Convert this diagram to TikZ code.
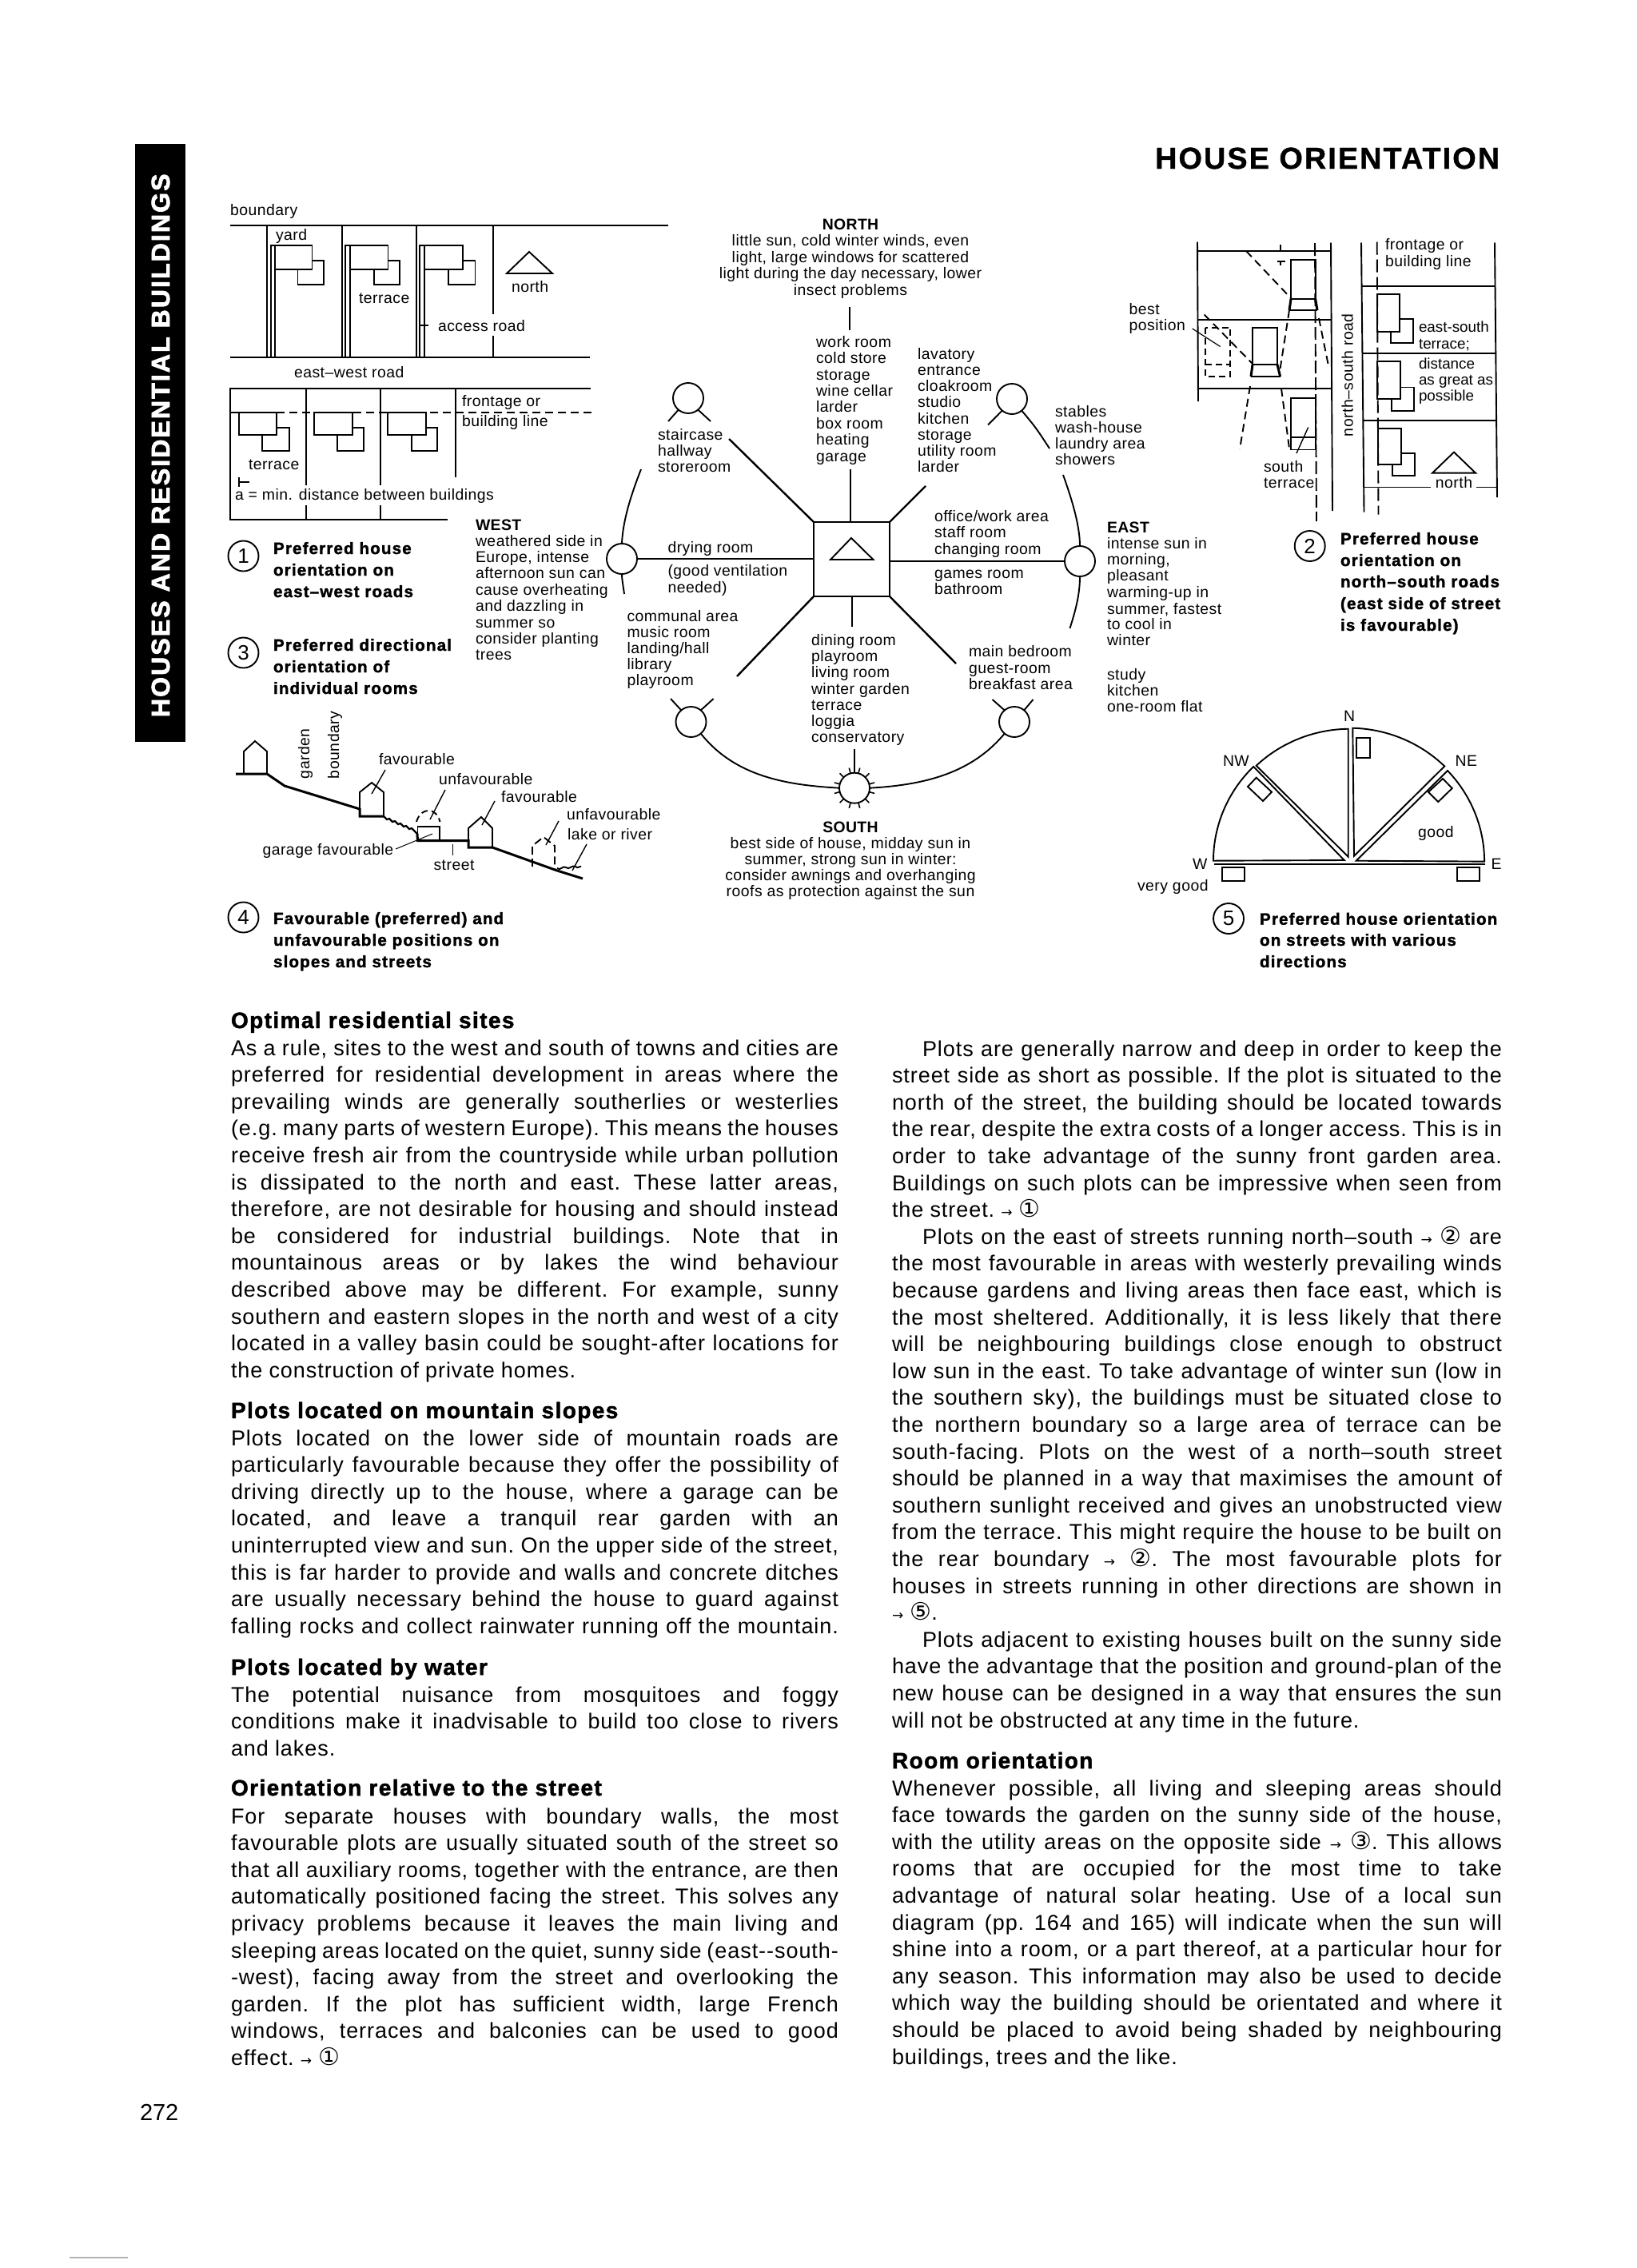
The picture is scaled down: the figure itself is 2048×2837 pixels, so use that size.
\documentclass[tikz,border=0pt]{standalone}
\usepackage{fontspec}
\setmainfont{Liberation Sans}
\newfontfamily\labf[LetterSpace=2.5]{Liberation Sans}
\newfontfamily\labn{Liberation Sans}
\newfontfamily\bodyf[LetterSpace=3.5]{Liberation Sans}
\newfontfamily\capf[FakeBold=1.6,LetterSpace=5.5]{Liberation Sans Bold}
\newfontfamily\headf[FakeBold=1.6,LetterSpace=5]{Liberation Sans Bold}
\newfontfamily\dirf[LetterSpace=2]{Liberation Sans Bold}
\newfontfamily\symf{DejaVu Sans}
\newfontfamily\tabf[FakeBold=2.5,LetterSpace=6.6]{Liberation Sans Bold}
\newfontfamily\titf[FakeBold=1,LetterSpace=5.5]{Liberation Sans Bold}
\newcount\tc
\newcommand{\Bsz}{\fontsize{13.5}{16}\selectfont}
\newcommand{\Lsz}{\fontsize{9.7}{12}\selectfont}
\newcommand{\Csz}{\fontsize{10.3}{12}\selectfont}
% text helpers: every text line is a named node
\newcommand{\lab}[3]{\global\advance\tc by 1 \node[txt,font=\labf\Lsz] (t\the\tc) at (#1,#2) {#3};}
\newcommand{\labz}[3]{\global\advance\tc by 1 \node[txt,font=\labn\fontsize{9.4}{12}\selectfont] (t\the\tc) at (#1,#2) {#3};}
\newcommand{\labc}[3]{\global\advance\tc by 1 \node[txtc,font=\labf\Lsz] (t\the\tc) at (#1,#2) {#3};}
\newcommand{\dirl}[3]{\global\advance\tc by 1 \node[txt,font=\dirf\Lsz] (t\the\tc) at (#1,#2) {#3};}
\newcommand{\dirc}[3]{\global\advance\tc by 1 \node[txtc,font=\dirf\Lsz] (t\the\tc) at (#1,#2) {#3};}
\newcommand{\capl}[3]{\global\advance\tc by 1 \node[txt,font=\capf\Csz] (t\the\tc) at (#1,#2) {#3};}
\newcommand{\head}[3]{\global\advance\tc by 1 \node[txt,font=\headf\fontsize{14}{16}\selectfont] (t\the\tc) at (#1,#2) {#3};}
\newcommand{\jl}[4]{\global\advance\tc by 1 \node[txt,font=\bodyf\Bsz] (t\the\tc) at (#1,{#2}) {\frenchspacing\spaceskip=.24em plus 1fil minus .08em \hbox to #3pt{#4}};}
\newcommand{\BL}[2]{\jl{289}{#1}{380}{#2}}
\newcommand{\BR}[2]{\jl{1116}{#1}{381.5}{#2}}
\newcommand{\BRi}[2]{\jl{1154}{#1}{362.5}{#2}}
\newcommand{\nl}[3]{\global\advance\tc by 1 \node[txt,font=\bodyf\Bsz] (t\the\tc) at (#1,{#2}) {\frenchspacing\spaceskip=.3em #3};}
\newcommand{\ar}{{\symf\fontsize{8.5}{10}\selectfont →}}
\newcommand{\ci}[1]{{\symf\fontsize{15}{16}\selectfont #1}}
\tikzset{
 txt/.style={anchor=base west,inner sep=0pt,outer sep=0pt,text=black},
 txtc/.style={anchor=base,inner sep=0pt,outer sep=0pt,text=black},
 ring/.style={circle,draw,minimum size=19pt,inner sep=0pt,outer sep=0pt},
 numring/.style={circle,draw,minimum size=19pt,inner sep=0pt,outer sep=0pt,font=\fontsize{13}{14}\selectfont},
 hub/.style={draw,line width=1.3pt,minimum width=47.5pt,minimum height=46.5pt,inner sep=0pt,outer sep=0pt},
 dsh/.style={dash pattern=on 5pt off 3pt},
 thk/.style={line width=1.5pt},
}
\begin{document}
\begin{tikzpicture}[x=0.5pt,y=-0.5pt,line width=.95pt,line join=miter]
\useasboundingbox (0,0) rectangle (2048,2837);
\fill[white] (0,0) rectangle (2048,2837);
% ---------- tab, title, page number
\fill[black] (169,180) rectangle (232,928);
\node[rotate=90,anchor=base west,inner sep=0pt,text=white,font=\tabf\fontsize{16}{18}\selectfont] (tab) at (212,898) {HOUSES AND RESIDENTIAL BUILDINGS};
\node[anchor=base east,inner sep=0pt,font=\titf\fontsize{18.9}{22}\selectfont] (title) at (1877,211) {HOUSE ORIENTATION};
\node[txt,font=\fontsize{14.5}{17}\selectfont] (page) at (175,2652) {272};
\draw[gray!60,line width=.6pt] (87,2824) -- (160,2824);
% ---------- figure 1
\lab{288}{269}{boundary}
\draw (288,282) -- (836,282);
\draw (288,447) -- (738,447);
\draw (334,282) -- (334,447);
\draw (428,282) -- (428,447);
\draw (521,282) -- (521,447);
\draw (617,282) -- (617,393) (617,420) -- (617,447);
\foreach \a/\b/\c/\d/\e in {339/344/390.5/372.5/405, 432/438/485.5/468/500, 525/531/579/561/594.5}{
 \draw (\a,447) -- (\a,307) -- (\c,307) -- (\c,337) -- (\b,337);
 \draw (\b,307) -- (\b,447);
 \draw (\c,326) -- (\e,326) -- (\e,356) -- (\d,356) -- (\d,337);
}
\draw (526,407) -- (536,407);
\draw (634,342) -- (662,315) -- (691,342) -- cycle;
\lab{345}{300}{yard}
\lab{449}{379}{terrace}
\lab{640}{365}{north}
\lab{548}{414}{access road}
\lab{368}{472}{east–west road}
\draw (739,486) -- (288,486) -- (288,650) -- (560,650);
\draw (383,486) -- (383,607) (383,632) -- (383,650);
\draw (476,486) -- (476,607) (476,632) -- (476,650);
\draw (570,486) -- (570,597);
\draw (288,516) -- (346,516);
\draw[dsh] (346,516) -- (741,516);
\foreach \a/\b/\c/\d in {299/346/328/362, 393/441/422/455, 485/533/515/547}{
 \draw (\a,516) rectangle (\b,544);
 \draw (\b,535) -- (\d,535) -- (\d,564) -- (\c,564) -- (\c,544);
}
\draw (299,597) -- (299,609) (299,603) -- (312,603);
\lab{578}{508}{frontage or}
\lab{578}{533}{building line}
\lab{311}{587}{terrace}
\lab{294}{625}{a = min. distance between buildings}
% ---------- captions left
\node[numring] (n1) at (304.5,695.5) {1};
\capl{342}{693}{Preferred house}
\capl{342}{720}{orientation on}
\capl{342}{747}{east–west roads}
\node[numring] (n3) at (304.5,816.5) {3};
\capl{342}{814}{Preferred directional}
\capl{342}{841}{orientation of}
\capl{342}{868}{individual rooms}
\node[numring] (n4) at (304.5,1147.5) {4};
\capl{342}{1156}{Favourable (preferred) and}
\capl{342}{1183}{unfavourable positions on}
\capl{342}{1210}{slopes and streets}
% ---------- figure 4 slope
\draw[thk] (295,968) -- (334,968) -- (356,983) -- (450,1012) -- (450,1021) -- (480,1021);
\draw (305,968) -- (305,940) -- (319,927) -- (334,940) -- (334,968);
\draw (450,1012) -- (450,991) -- (465,979) -- (480,991) -- (480,1021);
\draw[line width=1.1pt] (480,1021) -- (484,1025) -- (487,1024) -- (491,1028) -- (494,1027) -- (498,1031) -- (501,1030) -- (505,1034) -- (508,1033) -- (512,1037) -- (515,1036) -- (522,1043);
\draw (522.5,1051.5) -- (522.5,1034) -- (550,1034) -- (550,1051.5);
\draw[thk] (522,1043) -- (522.5,1051.5) -- (586,1051.5) -- (586,1060) -- (616,1060) -- (697,1089) -- (729,1099);
\draw (586,1060) -- (586,1036) -- (602,1022) -- (616,1036) -- (616,1060);
\draw[dash pattern=on 5pt off 2.5pt] (666,1084) -- (666,1058) -- (680,1047) -- (694,1058) -- (694,1087);
\draw[dash pattern=on 4pt off 2.5pt] (521,1028) .. controls (524,1018) and (530,1014) .. (536,1014) .. controls (542,1014) and (548,1018) .. (550.5,1028);
\draw (697,1086) .. controls (701,1090) and (704,1082) .. (708,1085) .. controls (712,1089) and (716,1081) .. (720,1084) .. controls (723,1087) and (725,1083) .. (727,1084);
\draw[line width=.7pt] (482,963) -- (465,993);
\draw[line width=.7pt] (557,988) -- (538,1025);
\draw[line width=.7pt] (619,1002) -- (603,1032);
\draw[line width=.7pt] (699,1027) -- (683,1057);
\draw[line width=.7pt] (734,1056) -- (716,1089);
\draw[line width=.5pt] (495,1062) -- (541,1043);
\draw[line width=.5pt] (566,1056) -- (566,1070);
\lab{474}{956}{favourable}
\lab{549}{981}{unfavourable}
\lab{627}{1003}{favourable}
\lab{709}{1025}{unfavourable}
\lab{710}{1050}{lake or river}
\lab{328.5}{1069}{garage favourable}
\lab{542.5}{1088}{street}
\node[rotate=90,anchor=base west,inner sep=0pt,font=\labf\Lsz] (garden) at (387,975) {garden};
\node[rotate=90,anchor=base west,inner sep=0pt,font=\labf\Lsz] (bound) at (424,975) {boundary};
% ---------- central diagram
\dirc{1064}{287}{NORTH}
\labc{1064}{307}{little sun, cold winter winds, even}
\labc{1064}{328}{light, large windows for scattered}
\labc{1064}{348}{light during the day necessary, lower}
\labc{1064}{369}{insect problems}
\coordinate (nTop) at (1063,384);
\coordinate (nBot) at (1063,413);
\draw (nTop) -- (nBot);
\foreach \y/\s in {434/work room,454/cold store,475/storage,495/wine cellar,515/larder,536/box room,556/heating,577/garage}{\lab{1021}{\y}{\s}}
\foreach \y/\s in {449/lavatory,469/entrance,489/cloakroom,509/studio,530/kitchen,550/storage,570/utility room,590/larder}{\lab{1148}{\y}{\s}}
\foreach \y/\s in {550/staircase,570/hallway,590/storeroom}{\lab{823}{\y}{\s}}
\foreach \y/\s in {521/stables,541/wash-house,561/laundry area,581/showers}{\lab{1320}{\y}{\s}}
\foreach \y/\s in {652.6/office\slash work area,672.6/staff room,693/changing room,723/games room,743/bathroom}{\lab{1169}{\y}{\s}}
\lab{835.5}{691.5}{drying room}
\lab{835.5}{720}{(good ventilation}
\lab{835.5}{741}{needed)}
\foreach \y/\s in {777/communal area,797/music room,817/landing\slash hall,837/library,857/playroom}{\lab{784.5}{\y}{\s}}
\foreach \y/\s in {807/dining room,827/playroom,847/living room,868/winter garden,888/terrace,908/loggia,928/conservatory}{\lab{1015}{\y}{\s}}
\foreach \y/\s in {821/main bedroom,842/guest-room,862/breakfast area}{\lab{1212}{\y}{\s}}
\node[hub] (sq) at (1065.5,699.5) {};
\draw (1039,700) -- (1065,673) -- (1092.5,700) -- cycle;
\node[ring] (cW) at (778,699) {};
\node[ring] (cE) at (1351,702) {};
\node[ring] (cNW) at (861,498) {};
\node[ring] (cNE) at (1266,499) {};
\node[ring] (cSW) at (864.5,903) {};
\node[ring] (cSE) at (1269,903) {};
\node[ring] (sun) at (1069,985.7) {};
\draw[line width=1.2pt] (cW.east) -- (sq.west |- cW.east);
\draw[line width=1.2pt] (sq.east |- cE.west) -- (cE.west);
\coordinate (dNW) at (912,549); \coordinate (dNE) at (1158,608);
\coordinate (dSW) at (922,846); \coordinate (dSE) at (1196,830);
\coordinate (dN) at (1064,587); \coordinate (dS) at (1066,784);
\draw[line width=1.2pt] (sq.north west) -- (dNW);
\draw[line width=1.2pt] (sq.north east) -- (dNE);
\draw[line width=1.2pt] (sq.south west) -- (dSW);
\draw[line width=1.2pt] (sq.south east) -- (dSE);
\draw (dN) -- (dN |- sq.north);
\draw (dS |- sq.south) -- (dS);
\coordinate (wT) at (802,587); \coordinate (wB) at (781,743);
\coordinate (eT) at (1330,594); \coordinate (eB) at (1338.5,786);
\draw (wT) .. controls (787,625) and (779,655) .. (cW.north);
\draw (cW.south) .. controls (778,725) and (780,735) .. (wB);
\draw (eT) .. controls (1343,630) and (1351,660) .. (cE.north);
\draw (cE.south) .. controls (1351,745) and (1345,765) .. (eB);
\coordinate (a1) at (836,527); \coordinate (a2) at (889,527);
\coordinate (a3) at (1236,531.5); \coordinate (a4) at (1313,561);
\coordinate (a5) at (839,874); \coordinate (a6) at (892.6,874);
\coordinate (a7) at (1241.5,875); \coordinate (a8) at (1292.5,875);
\draw (cNW.-130) -- (a1);
\draw (cNW.-50) -- (a2);
\draw (cNE.-130) -- (a3);
\draw (cNE.-50) .. controls (1296,535) .. (a4);
\draw (cSW.130) -- (a5);
\draw (cSW.50) -- (a6);
\draw (cSE.130) -- (a7);
\draw (cSE.50) -- (a8);
\draw (cSW.-50) .. controls (920,972) and (985,982) .. (sun.west);
\draw (sun.east) .. controls (1155,982) and (1215,968) .. (cSE.-130);
\coordinate (sT) at (1069,936.7);
\draw (sT) -- (sun.north);
\foreach \a in {15,45,75,105,135,165,195,225,255,285,315,345}{
 \draw[line width=.8pt] ([shift={(\a:19)}]sun.center) -- ([shift={(\a:26)}]sun.center);
}
\dirc{1064}{1041}{SOUTH}
\labc{1064}{1061.7}{best side of house, midday sun in}
\labc{1064}{1081.7}{summer, strong sun in winter:}
\labc{1064}{1101.7}{consider awnings and overhanging}
\labc{1064}{1121.7}{roofs as protection against the sun}
\dirl{595}{663}{WEST}
\foreach \y/\s in {683/weathered side in,703/{Europe, intense},723.5/afternoon sun can,744/cause overheating,764.5/and dazzling in,785/summer so,805/consider planting,825/trees}{\lab{595}{\y}{\s}}
\dirl{1385}{666}{EAST}
\foreach \y/\s in {686/intense sun in,706/{morning,},726/pleasant,747/warming-up in,768/{summer, fastest},787/to cool in,807/winter,850/study,870/kitchen,890/one-room flat}{\lab{1385}{\y}{\s}}
% ---------- figure 2
\draw (1498,302.5) -- (1499,502);
\draw (1665,303.5) -- (1667,639);
\draw (1498,314) -- (1665,314);
\draw (1498,399.6) -- (1666,399.6);
\draw (1499,485.6) -- (1666,485.6);
\draw[dash pattern=on 8pt off 2.5pt] (1645,304) -- (1647,652);
\draw (1602,306) -- (1602,314);
\draw (1598,327) -- (1608,327) (1602,327) -- (1602,332);
% top house
\draw (1615,374) -- (1615,325) -- (1645.7,325) -- (1645.7,374);
\draw[line width=1.1pt] (1615,374) -- (1645.7,374);
\draw[line width=1.1pt] (1613,388) -- (1648,388);
\draw[thk] (1615,374) -- (1613,388) (1645.7,374) -- (1648,388);
\draw[dsh] (1559,314) -- (1615,373);
\draw[dsh] (1613,388) -- (1601.6,461);
\draw[dsh] (1650,398) -- (1662.6,460.6);
% middle house
\draw (1567,456) -- (1567,409.6) -- (1598,409.6) -- (1598,456);
\draw[line width=1.1pt] (1567,456) -- (1598,456);
\draw[line width=1.1pt] (1565,471) -- (1601.6,471);
\draw[thk] (1567,456) -- (1565,471) (1598,456) -- (1601.6,471);
\draw[dsh] (1506.6,393.5) -- (1567,455);
% dashed house
\draw[dash pattern=on 4pt off 2.5pt] (1508,409.6) rectangle (1539,471);
\draw[dash pattern=on 4pt off 2.5pt] (1508,456) -- (1539,456);
\draw[line width=.6pt] (1491.6,411) -- (1526.6,433.5);
\lab{1412.6}{393}{best}
\lab{1412.6}{413}{position}
\draw[dsh] (1564,483) -- (1551,562);
\draw[dsh] (1603,486) -- (1613,561);
% bottom house
\draw (1615,562.5) rectangle (1645.7,498);
\draw (1615,547) -- (1645.7,547);
\draw[line width=.7pt] (1636.7,534.5) -- (1622,567);
\lab{1581}{590}{south}
\lab{1581}{610}{terrace}
% right part
\draw (1703,303.5) -- (1706.5,640.6);
\draw (1870,303.5) -- (1873,622);
\draw (1704,358) -- (1871,358);
\draw (1705,442.4) -- (1871,442.4);
\draw (1705,525.6) -- (1872,525.6);
\draw (1706,609.5) -- (1790,609.5) (1847,609.5) -- (1873,609.5);
\draw[dash pattern=on 8pt off 3pt] (1722.7,302.5) -- (1724.5,643.5);
\foreach \a/\b/\t/\m/\c/\d/\s/\e in {1722.7/1751.3/367.8/415/1740/1768/399/429, 1723/1752/451.7/499/1741/1769/484.5/514, 1724/1753/535.6/581/1742/1770/566.7/595}{
 \draw (\a,\t) rectangle (\b,\m);
 \draw (\b,\s) -- (\d,\s) -- (\d,\e) -- (\c,\e) -- (\c,\m);
}
\draw (1792,591.6) -- (1819,565.6) -- (1846,591.6) -- cycle;
\labc{1819}{610}{north}
\lab{1733}{312}{frontage or}
\lab{1733}{333}{building line}
\labz{1775}{415}{east-south}
\labz{1775}{436}{terrace;}
\labz{1775}{461}{distance}
\labz{1775}{481}{as great as}
\labz{1775}{501}{possible}
\node[rotate=90,anchor=base west,inner sep=0pt,font=\labf\Lsz] (nsr) at (1692.7,547) {north–south road};
\node[numring] (n2) at (1638.7,683) {2};
\capl{1677}{681}{Preferred house}
\capl{1677}{708}{orientation on}
\capl{1677}{734.6}{north–south roads}
\capl{1677}{762}{(east side of street}
\capl{1677}{789}{is favourable)}
% ---------- figure 5
\draw (1518,1076.7) arc[start angle=180,end angle=225.2,x radius=170,y radius=166] -- (1681.7,1076) -- cycle;
\draw (1571.7,957.7) arc[start angle=226.3,end angle=269.2,x radius=170,y radius=166] -- (1686.7,1071.7) -- cycle;
\draw (1692.3,910.7) arc[start angle=271.5,end angle=314.6,x radius=170,y radius=166] -- (1694,1070.7) -- cycle;
\draw (1811,964) arc[start angle=316.8,end angle=360,x radius=170,y radius=166] -- (1696.7,1076.7) -- cycle;
\draw (1519,1081) -- (1858,1081);
\draw (1696.7,923) rectangle (1714,948);
\draw (1561,984) -- (1571.7,972.7) -- (1591,990.7) -- (1580,1002) -- cycle;
\draw (1787,990.7) -- (1805,974) -- (1816.7,986) -- (1799.3,1003) -- cycle;
\draw (1529,1085) rectangle (1556.7,1101.7);
\draw (1822.7,1085) rectangle (1850.7,1101.7);
\labc{1688}{902}{N}
\lab{1530}{958}{NW}
\lab{1820.6}{958}{NE}
\lab{1492}{1087}{W}
\lab{1865.5}{1087}{E}
\lab{1423}{1114}{very good}
\lab{1774}{1047}{good}
\node[numring] (n5) at (1537,1149) {5};
\capl{1576}{1156.7}{Preferred house orientation}
\capl{1576}{1183}{on streets with various}
\capl{1576}{1210}{directions}
% ---------- body left
\head{289}{1286}{Optimal residential sites}
\BL{1320}{As a rule, sites to the west and south of towns and cities are}
\BL{1320+33.6*1}{preferred for residential development in areas where the}
\BL{1320+33.6*2}{prevailing winds are generally southerlies or westerlies}
\BL{1320+33.6*3}{(e.g. many parts of western Europe). This means the houses}
\BL{1320+33.6*4}{receive fresh air from the countryside while urban pollution}
\BL{1320+33.6*5}{is dissipated to the north and east. These latter areas,}
\BL{1320+33.6*6}{therefore, are not desirable for housing and should instead}
\BL{1320+33.6*7}{be considered for industrial buildings. Note that in}
\BL{1320+33.6*8}{mountainous areas or by lakes the wind behaviour}
\BL{1320+33.6*9}{described above may be different. For example, sunny}
\BL{1320+33.6*10}{southern and eastern slopes in the north and west of a city}
\BL{1320+33.6*11}{located in a valley basin could be sought-after locations for}
\nl{289}{1320+33.6*12}{the construction of private homes.}
\head{289}{1774}{Plots located on mountain slopes}
\BL{1808}{Plots located on the lower side of mountain roads are}
\BL{1808+33.6*1}{particularly favourable because they offer the possibility of}
\BL{1808+33.6*2}{driving directly up to the house, where a garage can be}
\BL{1808+33.6*3}{located, and leave a tranquil rear garden with an}
\BL{1808+33.6*4}{uninterrupted view and sun. On the upper side of the street,}
\BL{1808+33.6*5}{this is far harder to provide and walls and concrete ditches}
\BL{1808+33.6*6}{are usually necessary behind the house to guard against}
\BL{1808+33.6*7}{falling rocks and collect rainwater running off the mountain.}
\head{289}{2095}{Plots located by water}
\BL{2129}{The potential nuisance from mosquitoes and foggy}
\BL{2162.6}{conditions make it inadvisable to build too close to rivers}
\nl{289}{2196}{and lakes.}
\head{289}{2246}{Orientation relative to the street}
\BL{2281}{For separate houses with boundary walls, the most}
\BL{2281+33.6*1}{favourable plots are usually situated south of the street so}
\BL{2281+33.6*2}{that all auxiliary rooms, together with the entrance, are then}
\BL{2281+33.6*3}{automatically positioned facing the street. This solves any}
\BL{2281+33.6*4}{privacy problems because it leaves the main living and}
\BL{2281+33.6*5}{sleeping areas located on the quiet, sunny side (east-{}-south-}
\BL{2281+33.6*6}{-west), facing away from the street and overlooking the}
\BL{2281+33.6*7}{garden. If the plot has sufficient width, large French}
\BL{2281+33.6*8}{windows, terraces and balconies can be used to good}
\nl{289}{2281+33.6*9}{effect. \ar{} \ci{①}}
% ---------- body right
\BRi{1321}{Plots are generally narrow and deep in order to keep the}
\BR{1321+33.6*1}{street side as short as possible. If the plot is situated to the}
\BR{1321+33.6*2}{north of the street, the building should be located towards}
\BR{1321+33.6*3}{the rear, despite the extra costs of a longer access. This is in}
\BR{1321+33.6*4}{order to take advantage of the sunny front garden area.}
\BR{1321+33.6*5}{Buildings on such plots can be impressive when seen from}
\nl{1116}{1321+33.6*6}{the street. \ar{} \ci{①}}
\BRi{1321+33.6*7}{Plots on the east of streets running north–south \ar{} \ci{②} are}
\BR{1321+33.6*8}{the most favourable in areas with westerly prevailing winds}
\BR{1321+33.6*9}{because gardens and living areas then face east, which is}
\BR{1321+33.6*10}{the most sheltered. Additionally, it is less likely that there}
\BR{1321+33.6*11}{will be neighbouring buildings close enough to obstruct}
\BR{1321+33.6*12}{low sun in the east. To take advantage of winter sun (low in}
\BR{1321+33.6*13}{the southern sky), the buildings must be situated close to}
\BR{1321+33.6*14}{the northern boundary so a large area of terrace can be}
\BR{1321+33.6*15}{south-facing. Plots on the west of a north–south street}
\BR{1321+33.6*16}{should be planned in a way that maximises the amount of}
\BR{1321+33.6*17}{southern sunlight received and gives an unobstructed view}
\BR{1321+33.6*18}{from the terrace. This might require the house to be built on}
\BR{1321+33.6*19}{the rear boundary \ar{} \ci{②}. The most favourable plots for}
\BR{1321+33.6*20}{houses in streets running in other directions are shown in}
\nl{1116}{1321+33.6*21}{\ar{} \ci{⑤}.}
\BRi{1321+33.6*22}{Plots adjacent to existing houses built on the sunny side}
\BR{1321+33.6*23}{have the advantage that the position and ground-plan of the}
\BR{1321+33.6*24}{new house can be designed in a way that ensures the sun}
\nl{1116}{1321+33.6*25}{will not be obstructed at any time in the future.}
\head{1116}{2212}{Room orientation}
\BR{2246}{Whenever possible, all living and sleeping areas should}
\BR{2246+33.6*1}{face towards the garden on the sunny side of the house,}
\BR{2246+33.6*2}{with the utility areas on the opposite side \ar{} \ci{③}. This allows}
\BR{2246+33.6*3}{rooms that are occupied for the most time to take}
\BR{2246+33.6*4}{advantage of natural solar heating. Use of a local sun}
\BR{2246+33.6*5}{diagram (pp. 164 and 165) will indicate when the sun will}
\BR{2246+33.6*6}{shine into a room, or a part thereof, at a particular hour for}
\BR{2246+33.6*7}{any season. This information may also be used to decide}
\BR{2246+33.6*8}{which way the building should be orientated and where it}
\BR{2246+33.6*9}{should be placed to avoid being shaded by neighbouring}
\nl{1116}{2246+33.6*10}{buildings, trees and the like.}
\end{tikzpicture}
\end{document}
